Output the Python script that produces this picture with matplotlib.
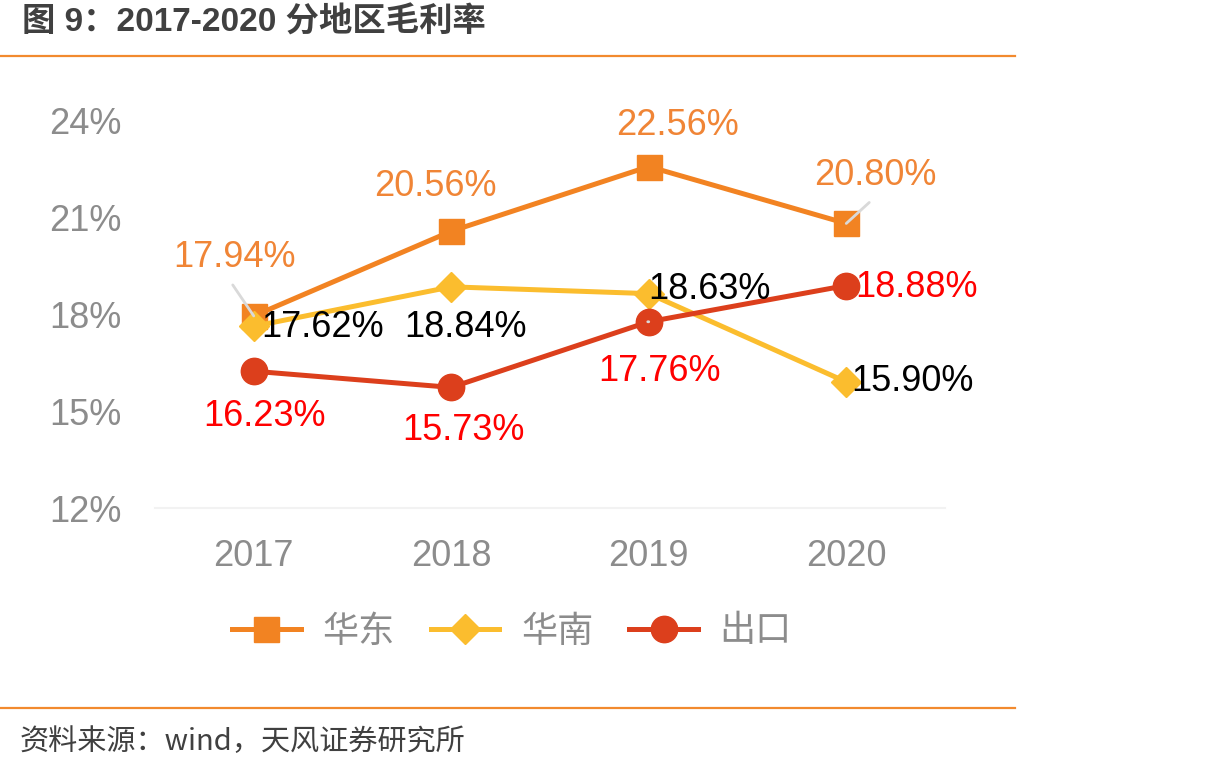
import matplotlib
matplotlib.use("Agg")
import matplotlib.pyplot as plt
from matplotlib.lines import Line2D

plt.rcParams['font.family'] = ['Liberation Sans', 'Noto Sans CJK SC', 'DejaVu Sans']

years = ['2017', '2018', '2019', '2020']
huadong = [17.94, 20.56, 22.56, 20.80]
huanan = [17.62, 18.84, 18.63, 15.90]
chukou = [16.23, 15.73, 17.76, 18.88]
yticks = [12, 15, 18, 21, 24]

# label offsets in pixels from each point
off_hd = [(-19, 58), (-16, 45), (29, 41), (29, 48)]
off_hn = [(69, -1), (14, -41), (61, 4), (66, 0)]
off_ck = [(11, -45), (12, -43), (11, -50), (70, -2)]

c_hd = '#F28322'
c_hn = '#FBBD2E'
c_ck = '#DC3F1C'
W, H = 1214, 771

fig = plt.figure(figsize=(W / 100, H / 100), dpi=100)
ax = fig.add_axes([155 / W, 1 - 508 / H, 790 / W, 388 / H])
x = range(len(years))

ax.plot(x, huadong, color=c_hd, lw=3.6, marker='s', ms=18, label='华东', zorder=3)
ax.plot(x, huanan, color=c_hn, lw=3.6, marker='D', ms=15, label='华南', zorder=3)
ax.plot(x, chukou, color=c_ck, lw=3.6, marker='o', ms=19, label='出口', zorder=3)

def labels(vals, offs, color):
    for i, (v, o) in enumerate(zip(vals, offs)):
        ax.annotate('%.2f%%' % v, (i, v), xytext=o, textcoords='offset pixels',
                    ha='center', va='center', fontsize=26, color=color, zorder=5)

labels(huadong, off_hd, '#F08536')
labels(huanan, off_hn, 'black')
labels(chukou, off_ck, '#FF0000')

# leader lines
for i, vals, (dx0, dy0, dx1, dy1) in [(0, huadong, (-21, 31, 1, 1)),
                                       (3, huadong, (23, 21, 1, 1)),
                                       (2, chukou, (-1, 0, 11, -20))]:
    ax.annotate('', (i, vals[i]), xytext=(dx0, dy0), textcoords='offset pixels',
                arrowprops=dict(arrowstyle='-', color='#D9D9D9', lw=2,
                                shrinkA=0, shrinkB=0), zorder=4)

ax.set_xlim(-0.5, 3.5)
ax.set_ylim(12, 24)
ax.set_yticks(yticks)
ax.set_yticklabels(['%d%%' % t for t in yticks])
ax.set_xticks(list(x))
ax.set_xticklabels(years)
ax.tick_params(length=0, labelsize=26, labelcolor='#8C8C8C')
ax.tick_params(axis='y', pad=24)
ax.tick_params(axis='x', pad=22)
for s in ['top', 'right', 'left']:
    ax.spines[s].set_visible(False)
ax.spines['bottom'].set_color('#F2F2F2')
ax.spines['bottom'].set_linewidth(1.5)

leg = fig.legend(loc='center', bbox_to_anchor=(512 / W, 1 - 632 / H), ncol=3,
                 frameon=False, fontsize=26, handlelength=1.9, handletextpad=0.6,
                 columnspacing=1.0)
for t in leg.get_texts():
    t.set_color('#8C8C8C')

fig.text(22 / W, 1 - 22 / H, '图 9：2017-2020 分地区毛利率', fontsize=24,
         fontweight='bold', color='#404040', va='center', ha='left',
         family=['Liberation Sans', 'Noto Sans CJK SC', 'DejaVu Sans'])
fig.add_artist(Line2D([0, 1015 / W], [1 - 56 / H] * 2, color='#F28A2E', lw=1.6))
fig.add_artist(Line2D([0, 1015 / W], [1 - 708 / H] * 2, color='#F28A2E', lw=1.6))
fig.text(20 / W, 1 - 742 / H, '资料来源：wind，天风证券研究所', fontsize=21,
         color='#404040', va='center', ha='left',
         family=['Noto Sans CJK SC', 'DejaVu Sans'])

fig.savefig('out.png', dpi=100)
